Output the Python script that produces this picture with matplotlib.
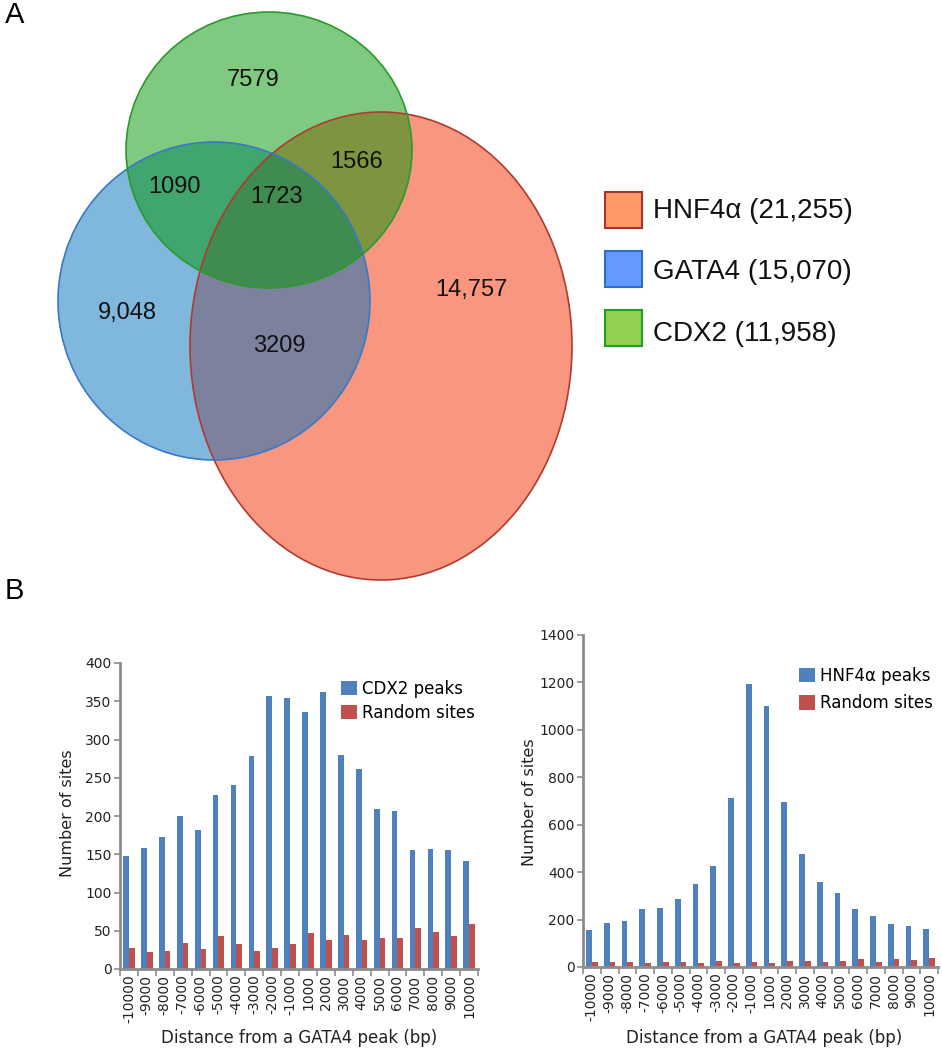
import matplotlib
matplotlib.use("Agg")
import matplotlib.pyplot as plt
from matplotlib.patches import Ellipse, Rectangle
import numpy as np

plt.rcParams['font.family'] = ['Liberation Sans', 'DejaVu Sans']

# ---------------- data ----------------
set_names = ["HNF4α", "GATA4", "CDX2"]
set_totals = ["21,255", "15,070", "11,958"]
region_labels = ["7579", "1566", "1090", "1723", "14,757", "9,048", "3209"]

distances = ["-10000", "-9000", "-8000", "-7000", "-6000", "-5000", "-4000", "-3000",
             "-2000", "-1000", "1000", "2000", "3000", "4000", "5000", "6000",
             "7000", "8000", "9000", "10000"]
cdx2_peaks = [148, 158, 173, 200, 182, 227, 240, 278, 357, 354,
              336, 362, 280, 262, 209, 206, 156, 157, 156, 141]
cdx2_random = [27, 22, 24, 34, 26, 43, 33, 24, 28, 33,
               47, 38, 45, 38, 40, 41, 54, 49, 43, 59]
hnf_peaks = [158, 186, 193, 246, 249, 286, 348, 426, 712, 1192,
             1102, 695, 477, 360, 310, 246, 215, 180, 172, 162]
hnf_random = [20, 20, 20, 16, 20, 20, 18, 26, 16, 20,
              18, 24, 26, 20, 24, 34, 20, 34, 30, 36]

W, H = 942, 1050
fig = plt.figure(figsize=(W / 100, H / 100), dpi=100)

# ---------------- panel A: Venn ----------------
av = fig.add_axes([0, 0, 1, 1])
av.set_xlim(0, W)
av.set_ylim(H, 0)
av.axis('off')

red_base = (0.96, 0.18, 0.0)
blue_base = (0.0, 0.44, 0.74)
green_base = (0.01, 0.58, 0.01)
ell = [
    ((381, 346), 382, 468, red_base, '#b03a30'),
    ((214, 301), 312, 318, blue_base, '#3a78c8'),
    ((269, 150), 286, 276, green_base, '#2a9a2a'),
]
for (c, w, h, fc, ec) in ell:
    av.add_patch(Ellipse(c, w, h, facecolor=fc, alpha=0.5, edgecolor='none', zorder=1))
for (c, w, h, fc, ec) in ell:
    av.add_patch(Ellipse(c, w, h, facecolor='none', edgecolor=ec, lw=1.2, zorder=2))

label_pos = [(253, 80), (357, 162), (174, 187), (277, 197), (471, 290), (127, 313), (279, 346)]
for txt, (x, y) in zip(region_labels, label_pos):
    av.text(x, y, txt, ha='center', va='center', fontsize=17, color='#111111', zorder=3)

leg_colors = ['#ff9966', '#6699ff', '#92d050']
leg_edges = ['#b03030', '#2a70c8', '#22a022']
leg_y = [192, 251, 310]
leg_text_y = [211, 272, 334]
for name, tot, fc, ec, y, ty in zip(set_names, set_totals, leg_colors, leg_edges, leg_y, leg_text_y):
    av.add_patch(Rectangle((605, y), 37, 36, facecolor=fc, edgecolor=ec, lw=1.5, zorder=3))
    av.text(653, ty, f"{name} ({tot})", ha='left', va='center', fontsize=20,
            color='#111111', zorder=3)

av.text(15, 15, "A", ha='center', va='center', fontsize=21, color='black')
av.text(14, 591, "B", ha='center', va='center', fontsize=21, color='black')

# ---------------- panel B: bar charts ----------------
blue = '#4f81bd'
red = '#c0504d'
axis_grey = '#8c8c8c'
bfont = 'DejaVu Sans'


def bar_panel(rect, peaks, rnd, ymax, ystep, peak_label, leg_xy, leg_sp, xlab_x):
    ax = fig.add_axes(rect)
    x = np.arange(len(distances))
    bw = 0.32
    ax.bar(x - bw / 2, peaks, width=bw, color=blue, label=peak_label, zorder=2)
    ax.bar(x + bw / 2, rnd, width=bw, color=red, label="Random sites", zorder=2)
    ax.set_xlim(-0.5, len(distances) - 0.5)
    ax.set_ylim(0, ymax)
    ax.set_yticks(np.arange(0, ymax + 1, ystep))
    ax.set_xticks(x)
    ax.set_xticklabels(distances, rotation=90, fontsize=10, color='#222222', family=bfont)
    for lab in ax.get_yticklabels():
        lab.set_family(bfont)
    ax.set_xticks(np.arange(-0.5, len(distances)), minor=True)
    ax.tick_params(axis='x', which='major', length=0, pad=4)
    ax.tick_params(axis='x', which='minor', length=5, width=1.2, color=axis_grey)
    ax.tick_params(axis='y', length=4, width=1.2, color=axis_grey, labelsize=10,
                   labelcolor='#222222', pad=2)
    for s in ['top', 'right']:
        ax.spines[s].set_visible(False)
    for s in ['left', 'bottom']:
        ax.spines[s].set_color(axis_grey)
        ax.spines[s].set_linewidth(2)
    ax.set_ylabel("Number of sites", fontsize=11.5, color='#222222', family=bfont)
    ax.set_xlabel("Distance from a GATA4 peak (bp)", fontsize=12, color='#222222',
                  family=bfont)
    ax.legend(loc='upper left', bbox_to_anchor=(leg_xy[0] / W, 1 - leg_xy[1] / H),
              bbox_transform=fig.transFigure, frameon=False,
              prop={'family': bfont, 'size': 12},
              handlelength=0.95, handleheight=0.95, handletextpad=0.3,
              labelspacing=leg_sp, borderaxespad=0, borderpad=0)
    ax.patch.set_alpha(0)
    return ax


axl = bar_panel([120 / W, (H - 969) / H, 358 / W, 306 / H], cdx2_peaks, cdx2_random,
                400, 50, "CDX2 peaks", (341, 680), 0.35, None)
axr = bar_panel([583 / W, (H - 967) / H, 355 / W, 332 / H], hnf_peaks, hnf_random,
                1400, 200, "HNF4α peaks", (799, 667), 0.55, None)

# label positions in figure pixels
for ax, ylx, yly in [(axl, 68, 813), (axr, 530, 802)]:
    inv = ax.transAxes.inverted()
    px = fig.transFigure.transform((ylx / W, 1 - yly / H))
    ax.yaxis.set_label_coords(*inv.transform(px))
for ax, xlx in [(axl, 299), (axr, 764)]:
    inv = ax.transAxes.inverted()
    px = fig.transFigure.transform((xlx / W, 1 - 1038 / H))
    ax.xaxis.set_label_coords(*inv.transform(px))
    ax.xaxis.label.set_va('center')
for ax in (axl, axr):
    ax.yaxis.label.set_va('center')

fig.savefig("out.png", dpi=100)
